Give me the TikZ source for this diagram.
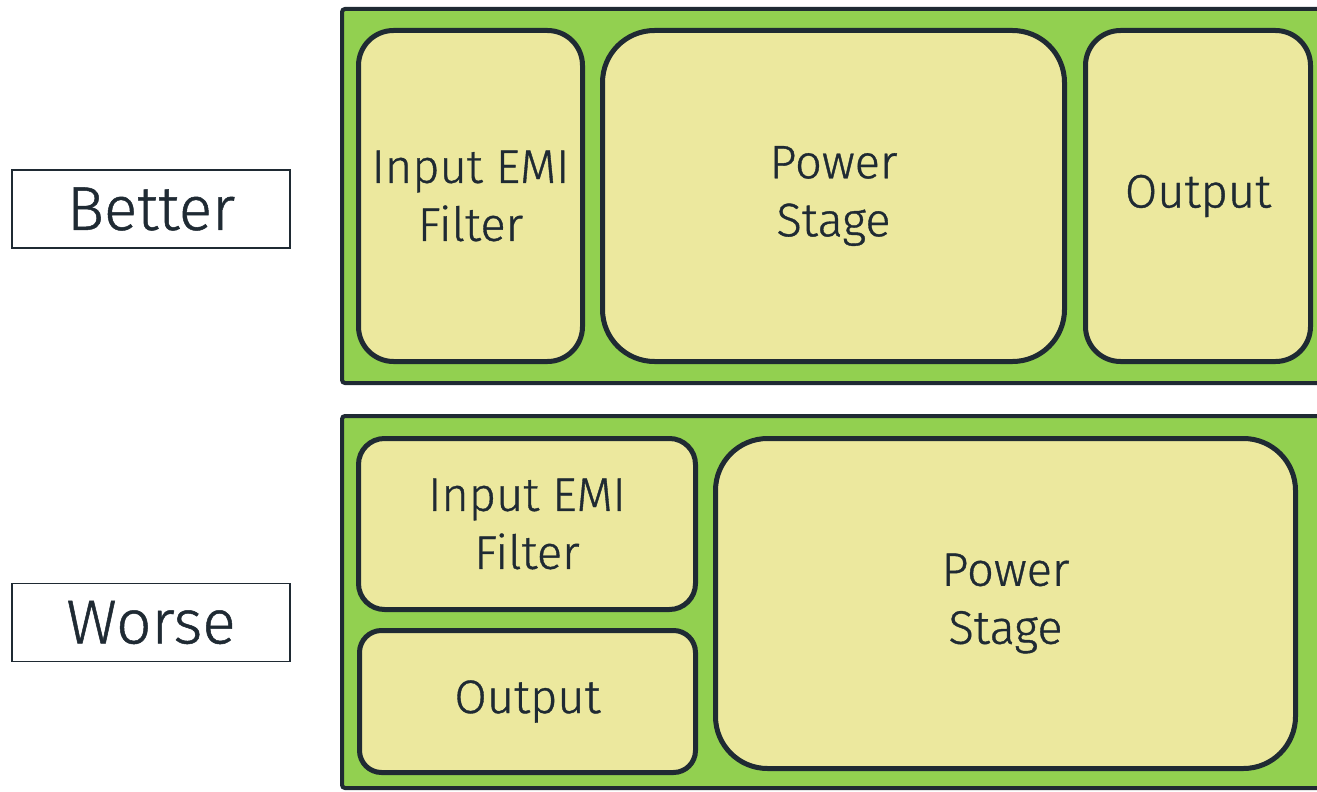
\documentclass[tikz,border=0pt]{standalone}
\usepackage{fontspec}
\setmainfont{Fira Sans}[UprightFont=* Light,FakeBold=0.8]
\definecolor{boardgreen}{HTML}{92D050}
\definecolor{blockfill}{HTML}{ECE89E}
\definecolor{inkdark}{HTML}{1F2A33}
\begin{document}
\begin{tikzpicture}[x=0.5pt,y=-0.5pt,
	board/.style={draw=inkdark,fill=boardgreen,line width=2pt,rounded corners=1.5pt},
	block/.style={draw=inkdark,fill=blockfill,line width=2.5pt,text=inkdark,align=center,
		font=\fontsize{23.5}{29}\selectfont,inner sep=0pt},
	tag/.style={draw=inkdark,line width=0.75pt,text=inkdark,minimum width=139pt,minimum height=39pt,
		inner sep=0pt,font=\fontsize{31}{34}\selectfont}]
	\useasboundingbox (0,0) rectangle (1317,792);
	\clip (0,0) rectangle (1317,792);
	\node [tag] at (151,209) (better) {Better};
	\node [tag] at (151,622.5) (worse) {Worse};
	\draw [board] (342,9) rectangle (1340,383);
	\draw [board] (342,416) rectangle (1340,788);
	% better layout: filter, power stage and output side by side
	\node [block,minimum width=112pt,minimum height=165.5pt,rounded corners=17.5pt] at (470.5,196) (emiA) {Input EMI\\Filter};
	\node [block,minimum width=231pt,minimum height=165.5pt,rounded corners=26pt] at (833.5,196) (powA) {Power\\Stage};
	\node [block,minimum width=112.5pt,minimum height=165.5pt,rounded corners=17.5pt] at (1198,196) (outA) {Output};
	% worse layout: output squeezed under the filter
	\node [block,minimum width=168.5pt,minimum height=85.5pt,rounded corners=13pt] at (527,524) (emiB) {Input EMI\\Filter};
	\node [block,minimum width=168pt,minimum height=71pt,rounded corners=11pt] at (527.5,701.5) (outB) {Output};
	\node [block,minimum width=290pt,minimum height=165pt,rounded corners=26pt] at (1005.5,603.5) (powB) {Power\\Stage};
\end{tikzpicture}
\end{document}
